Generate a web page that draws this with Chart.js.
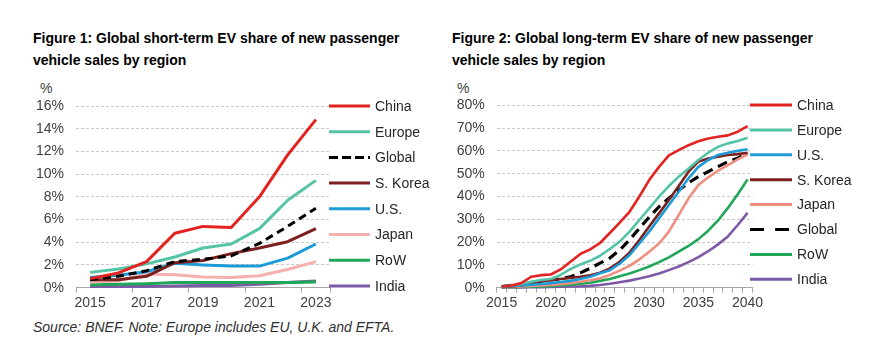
<!DOCTYPE html>
<html>
<head>
<meta charset="utf-8">
<script src="https://cdn.jsdelivr.net/npm/chart.js@4"></script>
<style>
  html, body { margin: 0; padding: 0; background: #ffffff; }
  body { width: 872px; height: 348px; position: relative; overflow: hidden; font-family: "Liberation Sans", Arial, sans-serif; }
  .t { position: absolute; color: #000; font-size: 14px; }
  .title { font-weight: bold; line-height: 22px; white-space: nowrap; }
  .pct { line-height: 16px; color: #404040; }
  .src { font-style: italic; line-height: 16px; color: #303030; white-space: nowrap; }
  canvas { position: absolute; top: 0; }
</style>
</head>
<body>
<div class="t title" style="left:33px; top:27px;">Figure 1: Global short-term EV share of new passenger<br>vehicle sales by region</div>
<div class="t title" style="left:452px; top:27px;">Figure 2: Global long-term EV share of new passenger<br>vehicle sales by region</div>
<div class="t pct" style="left:40px; top:80px;">%</div>
<div class="t pct" style="left:457px; top:80px;">%</div>
<div class="t src" style="left:33px; top:319px;">Source: BNEF. Note: Europe includes EU, U.K. and EFTA.</div>
<canvas id="c1" width="440" height="320" style="left:0px;"></canvas>
<canvas id="c2" width="432" height="320" style="left:440px;"></canvas>
<script>
// ---------- Figure 1 data (short-term, % share) ----------
const years1 = ['2015','2016','2017','2018','2019','2020','2021','2022','2023'];
const china1  = [0.8, 1.3, 2.3, 4.8, 5.4, 5.3, 8.0, 11.7, 14.8];
const europe1 = [1.35, 1.65, 2.1, 2.7, 3.5, 3.85, 5.2, 7.7, 9.45];
const global1 = [0.7, 1.0, 1.5, 2.3, 2.5, 2.8, 3.9, 5.4, 7.0];
const korea1  = [0.7, 0.7, 1.0, 2.2, 2.4, 3.0, 3.5, 4.05, 5.2];
const us1     = [0.9, 1.1, 1.4, 2.15, 2.0, 1.9, 1.9, 2.6, 3.85];
const japan1  = [0.5, 0.6, 1.2, 1.15, 0.95, 0.9, 1.05, 1.6, 2.3];
const row1    = [0.25, 0.3, 0.35, 0.45, 0.45, 0.45, 0.45, 0.45, 0.5];
const india1  = [0.1, 0.1, 0.1, 0.15, 0.2, 0.2, 0.3, 0.45, 0.6];
const yTicks1 = [0, 2, 4, 6, 8, 10, 12, 14, 16];

// ---------- Figure 2 data (long-term, % share) ----------
const years2 = ['2015','2016','2017','2018','2019','2020','2021','2022','2023','2024','2025','2026','2027','2028','2029','2030','2031','2032','2033','2034','2035','2036','2037','2038','2039','2040'];
const china2  = [0.5, 1, 2, 4.8, 5.5, 5.8, 8, 11.4, 14.8, 16.8, 19.6, 24, 28.5, 33.3, 40, 47.2, 53, 58, 60.3, 62.5, 64.2, 65.4, 66.2, 66.8, 68.4, 70.9];
const europe2 = [0.5, 1, 1.6, 2.6, 3.4, 3.8, 5.6, 8.2, 10.2, 11.8, 14, 17, 20.2, 24.6, 29.7, 34.8, 39.9, 44.6, 48.7, 52.3, 56, 59.2, 61.8, 63.3, 64.3, 65.8];
const us2     = [0.5, 0.8, 1, 1.3, 1.6, 2, 2.5, 3, 3.8, 4.8, 6.3, 7.7, 10.5, 14.3, 19.4, 24.6, 30.4, 36.3, 42.1, 48, 53, 56, 58.2, 59.2, 60, 60.7];
const korea2  = [0.3, 0.6, 1, 2, 2.8, 3.3, 3.8, 4.3, 4.8, 5.5, 6.6, 8.5, 11.4, 15.4, 20.9, 26.8, 32.6, 38.5, 44.6, 50.9, 55.3, 56.7, 57.5, 58.2, 58.6, 59.2];
const japan2  = [0.2, 0.3, 0.5, 0.8, 1, 1.2, 1.5, 2, 2.6, 3.3, 4.1, 5.6, 7.5, 9.6, 12.4, 15.8, 19.4, 24.6, 31.9, 39.2, 45, 48.4, 51.3, 53.8, 56.3, 58.5];
const global2 = [0.5, 1, 1.5, 2.2, 2.9, 3.4, 3.9, 4.8, 6.5, 8.5, 10.8, 13, 16.5, 21, 26, 31, 35.5, 39.2, 42.8, 46, 48.7, 50.9, 53.1, 55.3, 56.8, 58.9];
const row2    = [0.2, 0.2, 0.3, 0.4, 0.5, 0.7, 1, 1.3, 1.7, 2.2, 3, 3.8, 5, 6.2, 7.7, 9.3, 11.2, 13.3, 15.8, 18.3, 21.3, 25, 29.5, 35, 41, 47.5];
const india2  = [0.1, 0.1, 0.1, 0.2, 0.2, 0.3, 0.4, 0.5, 0.6, 0.8, 1.2, 1.7, 2.4, 3.1, 4, 5, 6.2, 7.7, 9.3, 11.2, 13.4, 16, 19, 22.5, 27.5, 32.8];
const yTicks2 = [0, 10, 20, 30, 40, 50, 60, 70, 80];

const FONT = '"Liberation Sans", Arial, sans-serif';
const C = {
  china: '#e42320', europe: '#55c3a6', global: '#000000', korea: '#7c1f1f',
  us: '#1c9bd7', japan1: '#f6b1ad', japan2: '#ee8f80', row: '#1fa657', india: '#7d5aa7'
};

const sideLegend = {
  id: 'sideLegend',
  afterDraw(chart, args, o) {
    const ctx = chart.ctx;
    ctx.save();
    chart.data.datasets.forEach((ds, i) => {
      const y = o.y0 + i * o.step;
      ctx.beginPath();
      ctx.strokeStyle = ds.borderColor;
      ctx.lineWidth = o.lineWidth;
      ctx.lineCap = 'butt';
      ctx.setLineDash(ds.borderDash && ds.borderDash.length ? o.dash : []);
      ctx.moveTo(o.x0, y);
      ctx.lineTo(o.x1, y);
      ctx.stroke();
      ctx.setLineDash([]);
      ctx.fillStyle = '#262626';
      ctx.font = '14px ' + FONT;
      ctx.textBaseline = 'middle';
      ctx.textAlign = 'left';
      ctx.fillText(ds.label, o.tx, y + 1);
    });
    ctx.restore();
  }
};

function ds(label, data, color, width, dash) {
  return {
    label, data, borderColor: color, backgroundColor: color,
    borderWidth: width, borderDash: dash || [], pointRadius: 0, pointHoverRadius: 0,
    tension: 0, fill: false, clip: false, borderCapStyle: 'butt', borderJoinStyle: 'round'
  };
}

function makeOptions(cfg) {
  return {
    responsive: false, animation: false, devicePixelRatio: 1,
    layout: { padding: cfg.padding },
    plugins: {
      legend: { display: false }, tooltip: { enabled: false },
      sideLegend: cfg.legend
    },
    scales: {
      x: {
        type: 'category', offset: true,
        afterFit: s => { s.height = 30; },
        grid: {
          offset: true, drawOnChartArea: false, drawTicks: true, tickLength: 5, lineWidth: 1,
          tickColor: c => (c.index === undefined || c.index % cfg.tickEvery === 0) ? '#a6a6a6' : 'rgba(0,0,0,0)'
        },
        border: { display: true, color: '#a6a6a6', width: 1 },
        ticks: {
          autoSkip: false, maxRotation: 0, minRotation: 0, padding: 2,
          color: '#404040', font: { family: FONT, size: 14 },
          callback: (v, i) => i % cfg.labelEvery === 0 ? cfg.labels[i] : ''
        }
      },
      y: {
        min: cfg.yTicks[0], max: cfg.yTicks[cfg.yTicks.length - 1],
        afterFit: s => { s.width = 50; },
        afterBuildTicks: s => { s.ticks = cfg.yTicks.map(v => ({ value: v })); },
        grid: { color: '#c9c9c9', lineWidth: 1, drawTicks: false },
        border: { display: false, dash: [3, 2] },
        ticks: {
          padding: 12, color: '#404040', font: { family: FONT, size: 14 },
          callback: v => v + '%'
        }
      }
    }
  };
}

new Chart(document.getElementById('c1'), {
  type: 'line',
  data: {
    labels: years1,
    datasets: [
      ds('China', china1, C.china, 3),
      ds('Europe', europe1, C.europe, 3),
      ds('Global', global1, C.global, 3, [8, 5]),
      ds('S. Korea', korea1, C.korea, 3),
      ds('U.S.', us1, C.us, 3),
      ds('Japan', japan1, C.japan1, 3),
      ds('RoW', row1, C.row, 3),
      ds('India', india1, C.india, 3)
    ]
  },
  options: makeOptions({
    padding: { left: 26, top: 106, right: 110, bottom: 2.3 },
    labels: years1, labelEvery: 2, tickEvery: 2, yTicks: yTicks1,
    legend: { x0: 329, x1: 370, tx: 375, y0: 106, step: 25.7, lineWidth: 3, dash: [9, 4] }
  }),
  plugins: [sideLegend]
});

new Chart(document.getElementById('c2'), {
  type: 'line',
  data: {
    labels: years2,
    datasets: [
      ds('China', china2, C.china, 2.6),
      ds('Europe', europe2, C.europe, 2.6),
      ds('U.S.', us2, C.us, 2.6),
      ds('S. Korea', korea2, C.korea, 2.6),
      ds('Japan', japan2, C.japan2, 2.6),
      ds('Global', global2, C.global, 3.2, [10, 6]),
      ds('RoW', row2, C.row, 2.6),
      ds('India', india2, C.india, 2.6)
    ]
  },
  options: makeOptions({
    padding: { left: 6.7, top: 105.3, right: 119.5, bottom: 2.3 },
    labels: years2, labelEvery: 5, tickEvery: 1, yTicks: yTicks2,
    legend: { x0: 310, x1: 352, tx: 357, y0: 105, step: 24.9, lineWidth: 3, dash: [14, 11] }
  }),
  plugins: [sideLegend]
});
</script>
</body>
</html>
